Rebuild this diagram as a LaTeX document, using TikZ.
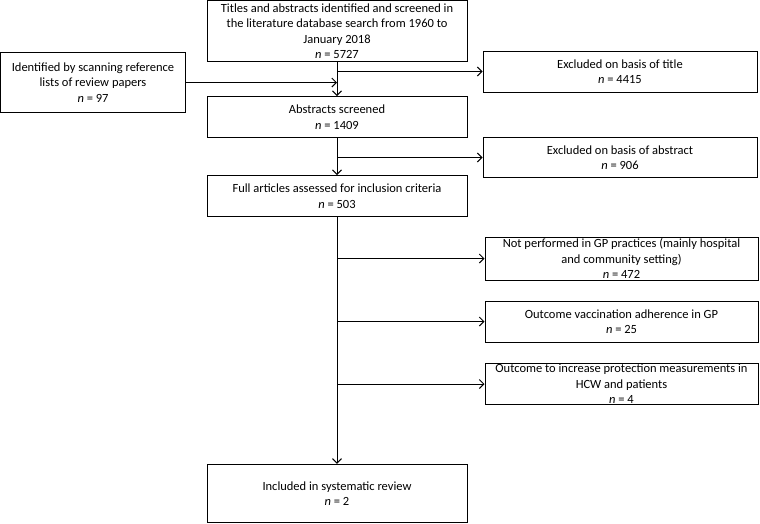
\documentclass[tikz,border=0pt]{standalone}
\usepackage{fontspec}
\setmainfont{Carlito}
\usetikzlibrary{arrows.meta}
\begin{document}
\begin{tikzpicture}[x=1pt,y=-1pt,
  box/.style={draw, line width=1pt, inner sep=0pt, align=center, font=\fontsize{12.5}{15.5}\selectfont},
  conn/.style={line width=1pt},
  arr/.style={conn, -{Straight Barb[length=4.5pt,width=9pt,line width=1pt]}}]
\useasboundingbox (0,0) rectangle (760,523);
\node[box, minimum width=260, minimum height=61.5] (top) at (337,31) {Titles and abstracts identified and screened in\\the literature database search from 1960 to\\January 2018\\\textit{n} = 5727};
\node[box, minimum width=185, minimum height=60.5] (left) at (93,82.5) {Identified by scanning reference\\lists of review papers\\\textit{n} = 97};
\node[box, minimum width=274, minimum height=41] (extitle) at (620,71.5) {Excluded on basis of title\\\textit{n} = 4415};
\node[box, minimum width=260, minimum height=41] (abs) at (337,117) {Abstracts screened\\\textit{n} = 1409};
\node[box, minimum width=274, minimum height=40] (exabs) at (620,157.5) {Excluded on basis of abstract\\\textit{n} = 906};
\node[box, minimum width=260, minimum height=41] (full) at (337,196) {Full articles assessed for inclusion criteria\\\textit{n} = 503};
\node[box, minimum width=273, minimum height=43] (notgp) at (621.5,258.5) {Not performed in GP practices (mainly hospital\\and community setting)\\\textit{n} = 472};
\node[box, minimum width=273, minimum height=41] (vacc) at (621.5,321.5) {Outcome vaccination adherence in GP\\\textit{n} = 25};
\node[box, minimum width=273, minimum height=41] (prot) at (621.5,384) {Outcome to increase protection measurements in\\HCW and patients\\\textit{n} = 4};
\node[box, minimum width=260, minimum height=58.5] (incl) at (337,493.5) {Included in systematic review\\\textit{n} = 2};
\draw[arr] (top.south) -- (abs.north);
\draw[arr] (left.east) -- (left.east -| top.south);
\draw[arr] (top.south |- extitle.west) -- (extitle.west);
\draw[arr] (abs.south) -- (full.north);
\draw[arr] (abs.south |- exabs.west) -- (exabs.west);
\draw[arr] (full.south) -- (incl.north);
\draw[arr] (full.south |- notgp.west) -- (notgp.west);
\draw[arr] (full.south |- vacc.west) -- (vacc.west);
\draw[arr] (full.south |- prot.west) -- (prot.west);
\end{tikzpicture}
\end{document}
